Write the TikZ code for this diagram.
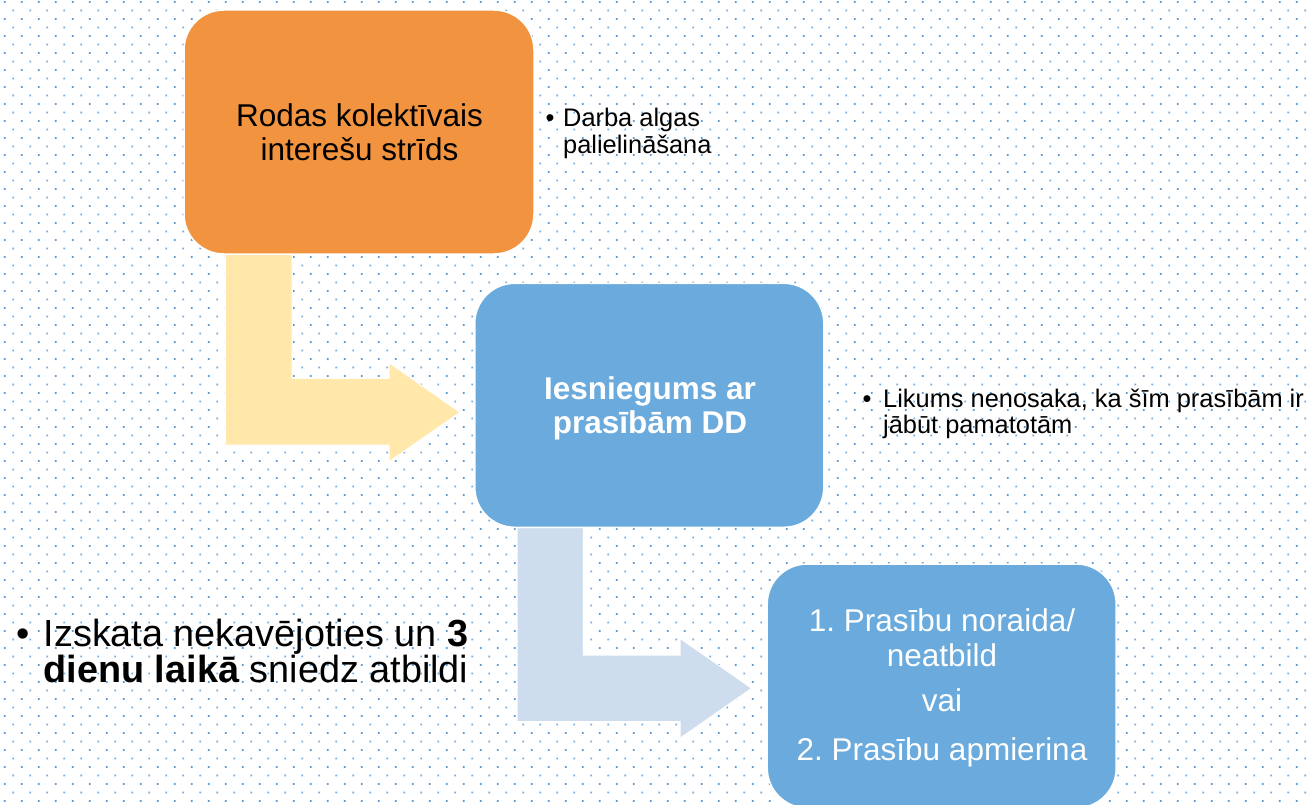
\documentclass[tikz,border=0pt]{standalone}
\usepackage{fontspec}
\setmainfont{Liberation Sans}
\frenchspacing
\definecolor{dotc}{HTML}{5B9BD5}
\definecolor{orangebox}{HTML}{F2933F}
\definecolor{bluebox}{HTML}{6AAADC}
\definecolor{arrowyellow}{HTML}{FFE8AA}
\definecolor{arrowblue}{HTML}{CEDDEE}
\begin{document}
\begin{tikzpicture}[x=1pt,y=-1pt,
  box/.style={rounded corners=40pt, draw=white, line width=1.5pt, inner sep=0pt,
    minimum width=349pt, minimum height=244pt},
  bigarrow/.style={draw=white, line width=1pt},
  boxtext/.style={anchor=base, inner sep=0pt, font=\fontsize{31.5}{34}\selectfont},
  sidetext/.style={anchor=base west, inner sep=0pt, font=\fontsize{25.4}{27}\selectfont},
  sidebullet/.style={anchor=base, inner sep=0pt, font=\fontsize{25.4}{27}\selectfont},
  leadtext/.style={anchor=base west, inner sep=0pt, font=\fontsize{37.8}{37}\selectfont},
  leadbullet/.style={anchor=base, inner sep=0pt, font=\fontsize{37.8}{37}\selectfont}]
\useasboundingbox (0,0) rectangle (1311,805);
\fill[white] (0,0) rectangle (1311,805);
% dotted background
\foreach \j in {0,...,47}{
  \fill[dotc] \foreach \i in {0,...,76}{ ({3.9+17*\i},{1.2+17*\j}) rectangle ++(1.6,1.6) };
  \fill[dotc!85] \foreach \i in {0,...,76}{ ({12.4+17*\i},{9.7+17*\j}) rectangle ++(1.6,1.6) };
}
% bent arrows
\filldraw[bigarrow, fill=arrowyellow] (225.3,250) -- (292,250) -- (292,378.3) -- (389,378.3)
  -- (389,362.7) -- (460,412.3) -- (389,461.7) -- (389,445) -- (225.3,445) -- cycle;
\filldraw[bigarrow, fill=arrowblue] (517,525) -- (583.3,525) -- (583.3,655) -- (680,655)
  -- (680,638.3) -- (751.7,688.3) -- (680,738.3) -- (680,721.7) -- (517,721.7) -- cycle;
% boxes
\node[box, fill=orangebox, minimum width=350pt] (b1) at (359,132) {};
\node[box, fill=bluebox] (b2) at (649.3,405.3) {};
\node[box, fill=bluebox] (b3) at (941.7,686) {};
% box texts
\node[boxtext] (t1a) at (359.5,126.7) {Rodas kolektīvais};
\node[boxtext] (t1b) at (359.5,160.5) {interešu strīds};
\node[boxtext, text=white, font=\fontsize{31.5}{34}\selectfont\bfseries] (t2a) at (650,399) {Iesniegums ar};
\node[boxtext, text=white, font=\fontsize{31.5}{34}\selectfont\bfseries] (t2b) at (650,433.3) {prasībām DD};
\node[boxtext, text=white] (t3a) at (942,631.7) {1. Prasību noraida/};
\node[boxtext, text=white] (t3b) at (942,666.5) {neatbild};
\node[boxtext, text=white] (t3c) at (942,711.7) {vai};
\node[boxtext, text=white] (t3d) at (942,760) {2. Prasību apmierina};
% side notes
\node[sidebullet] (s1b) at (550,127) {•};
\node[sidetext] (s1a) at (563,127) {Darba algas};
\node[sidetext] (s1c) at (563,153.5) {palielināšana};
\node[sidebullet] (s2b) at (867,407) {•};
\node[sidetext] (s2a) at (883,407) {Likums nenosaka, ka šīm prasībām ir};
\node[sidetext] (s2c) at (883,433.5) {jābūt pamatotām};
\node[leadbullet] (l1b) at (23,646) {•};
\node[leadtext] (l1a) at (43.5,646) {Izskata nekavējoties un \textbf{3}};
\node[leadtext] (l1c) at (43.5,682.5) {\textbf{dienu laikā} sniedz atbildi};
\end{tikzpicture}
\end{document}
